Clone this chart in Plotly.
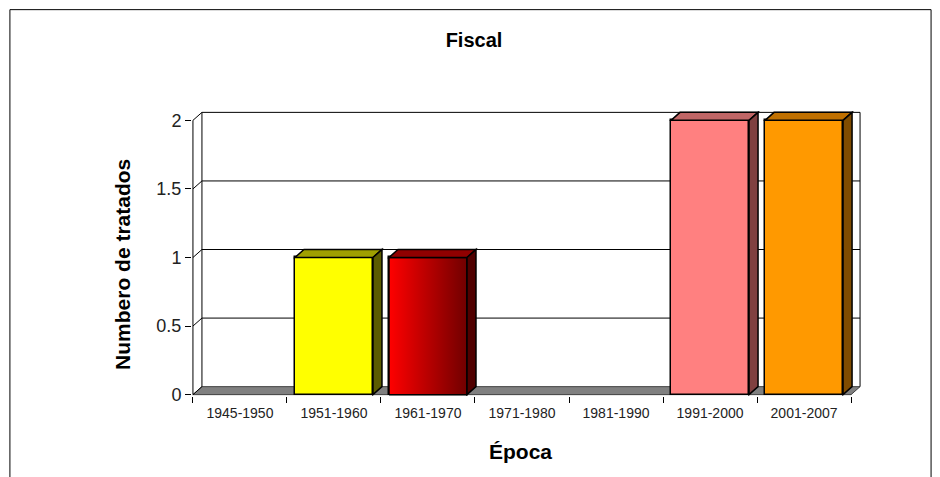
import plotly.graph_objects as go

# datos
epocas = ["1945-1950", "1951-1960", "1961-1970", "1971-1980", "1981-1990", "1991-2000", "2001-2007"]
tratados = [0, 1, 1, 0, 0, 2, 2]
y_ticks = [0, 0.5, 1, 1.5, 2]
y_ticktext = ["0", "0.5", "1", "1.5", "2"]

# colores (frente, arriba, lado)
front_colors = ["#808080", "#FFFF00", "#E00000", "#808080", "#808080", "#FF8080", "#FF9900"]
top_colors = ["#606060", "#A0A000", "#900000", "#606060", "#606060", "#C06666", "#C07000"]
side_colors = ["#404040", "#5C5C00", "#500000", "#404040", "#404040", "#804040", "#804C00"]

# geometría del efecto 3D (pixeles)
PX_CAT = 94.0
PX_UNIT = 137.5
DX = 9 / PX_CAT
DY = 8 / PX_UNIT
BAR_W = 78 / PX_CAT
PAD_X = 0.01
PAD_Y = 0.01
OFF = 8  # margen del <body> de la página

x_range = [-0.5 - PAD_X, len(epocas) - 0.5 + DX + PAD_X]
y_range = [-PAD_Y, max(y_ticks) + DY + PAD_Y]

W, H = 940 - OFF, 477 - OFF
left_px = 193 - OFF - PAD_X * PX_CAT
bottom_px = 395 - OFF + PAD_Y * PX_UNIT
plot_w = (x_range[1] - x_range[0]) * PX_CAT
plot_h = (y_range[1] - y_range[0]) * PX_UNIT
m_l = left_px
m_r = W - left_px - plot_w
m_b = H - bottom_px
m_t = bottom_px - plot_h


def px_x(p):
    return (p - OFF - left_px) / plot_w


def px_y(p):
    return (bottom_px - (p - OFF)) / plot_h


fig = go.Figure()

line_w = [1.5 if v > 0 else 0 for v in tratados]
fig.add_trace(
    go.Bar(
        x=epocas,
        y=tratados,
        width=BAR_W,
        marker=dict(color=front_colors, line=dict(color="black", width=line_w)),
        showlegend=False,
        hoverinfo="x+y",
    )
)

# degradado de la barra roja (1961-1970)
i_red = 2
xl, xr = i_red - BAR_W / 2, i_red + BAR_W / 2
fig.add_trace(
    go.Scatter(
        x=[xl, xl, xr, xr, xl],
        y=[0, tratados[i_red], tratados[i_red], 0, 0],
        xaxis="x2",
        mode="lines",
        fill="toself",
        fillgradient=dict(type="horizontal", colorscale=[[0, "#FF0000"], [1, "#700000"]]),
        line=dict(color="black", width=1.5),
        showlegend=False,
        hoverinfo="skip",
    )
)

shapes = []
n = len(epocas)
top = max(y_ticks)

# suelo
shapes.append(dict(
    type="path", xref="x", yref="y", layer="below",
    path=f"M {-0.5},0 L {n - 0.5},0 L {n - 0.5 + DX},{DY} L {-0.5 + DX},{DY} Z",
    fillcolor="#808080", line=dict(color="#404040", width=1),
))
# pared del fondo y líneas de cuadrícula
for v in y_ticks:
    if v > 0:
        shapes.append(dict(type="line", xref="x", yref="y", layer="below",
                           x0=-0.5 + DX, x1=n - 0.5 + DX, y0=v + DY, y1=v + DY,
                           line=dict(color="black", width=1)))
    shapes.append(dict(type="line", xref="x", yref="y", layer="below",
                       x0=-0.5, x1=-0.5 + DX, y0=v, y1=v + DY,
                       line=dict(color="black", width=1)))
for xe in [-0.5 + DX, n - 0.5 + DX]:
    shapes.append(dict(type="line", xref="x", yref="y", layer="below",
                       x0=xe, x1=xe, y0=DY, y1=top + DY,
                       line=dict(color="black", width=1)))
# eje vertical frontal
shapes.append(dict(type="line", xref="x", yref="y", layer="below",
                   x0=-0.5, x1=-0.5, y0=0, y1=top,
                   line=dict(color="black", width=1)))

# caras superior y lateral de las barras
for i, v in enumerate(tratados):
    if v <= 0:
        continue
    a, b = i - BAR_W / 2, i + BAR_W / 2
    shapes.append(dict(
        type="path", xref="x", yref="y", layer="above",
        path=f"M {a},{v} L {a + DX},{v + DY} L {b + DX},{v + DY} L {b},{v} Z",
        fillcolor=top_colors[i], line=dict(color="black", width=1.5),
    ))
    shapes.append(dict(
        type="path", xref="x", yref="y", layer="above",
        path=f"M {b},0 L {b},{v} L {b + DX},{v + DY} L {b + DX},{DY} Z",
        fillcolor=side_colors[i], line=dict(color="black", width=1.5),
    ))

# marco exterior
shapes.append(dict(type="rect", xref="paper", yref="paper",
                   x0=px_x(10), x1=px_x(931), y0=px_y(495), y1=px_y(9),
                   line=dict(color="black", width=1), fillcolor="rgba(0,0,0,0)"))

fig.update_layout(
    template="none",
    width=W,
    height=H,
    margin=dict(l=m_l, r=m_r, t=m_t, b=m_b, pad=0),
    paper_bgcolor="white",
    plot_bgcolor="white",
    font=dict(family="Liberation Sans, Arial, sans-serif", color="black"),
    shapes=shapes,
    title=dict(text="<b>Fiscal</b>", x=(474 - OFF) / W, xref="container", xanchor="center",
               y=1 - (40 - OFF) / H, yref="container", yanchor="middle",
               font=dict(size=20, color="black")),
    xaxis=dict(
        type="category", range=x_range, showgrid=False, zeroline=False, showline=False,
        ticks="outside", ticklen=6, tickcolor="black", tickwidth=1, tickson="boundaries",
        tickfont=dict(size=14, color="#222"), ticklabelstandoff=7,
    ),
    xaxis2=dict(overlaying="x", anchor="y", range=x_range, visible=False),
    yaxis=dict(
        range=y_range, showgrid=False, zeroline=False, showline=False,
        tickmode="array", tickvals=y_ticks, ticktext=y_ticktext,
        ticks="outside", ticklen=6, tickcolor="black", tickwidth=1,
        tickfont=dict(size=18, color="#222"),
    ),
    annotations=[
        dict(text="<b>Numbero de tratados</b>", textangle=-90, showarrow=False,
             xref="paper", yref="paper", x=px_x(123), y=px_y(264),
             xanchor="center", yanchor="middle", font=dict(size=21, color="black")),
        dict(text="<b>Época</b>", showarrow=False,
             xref="paper", yref="paper", x=px_x(521), y=px_y(452),
             xanchor="center", yanchor="middle", font=dict(size=21, color="black")),
    ],
    bargap=0,
)

fig.write_html("out.html")
